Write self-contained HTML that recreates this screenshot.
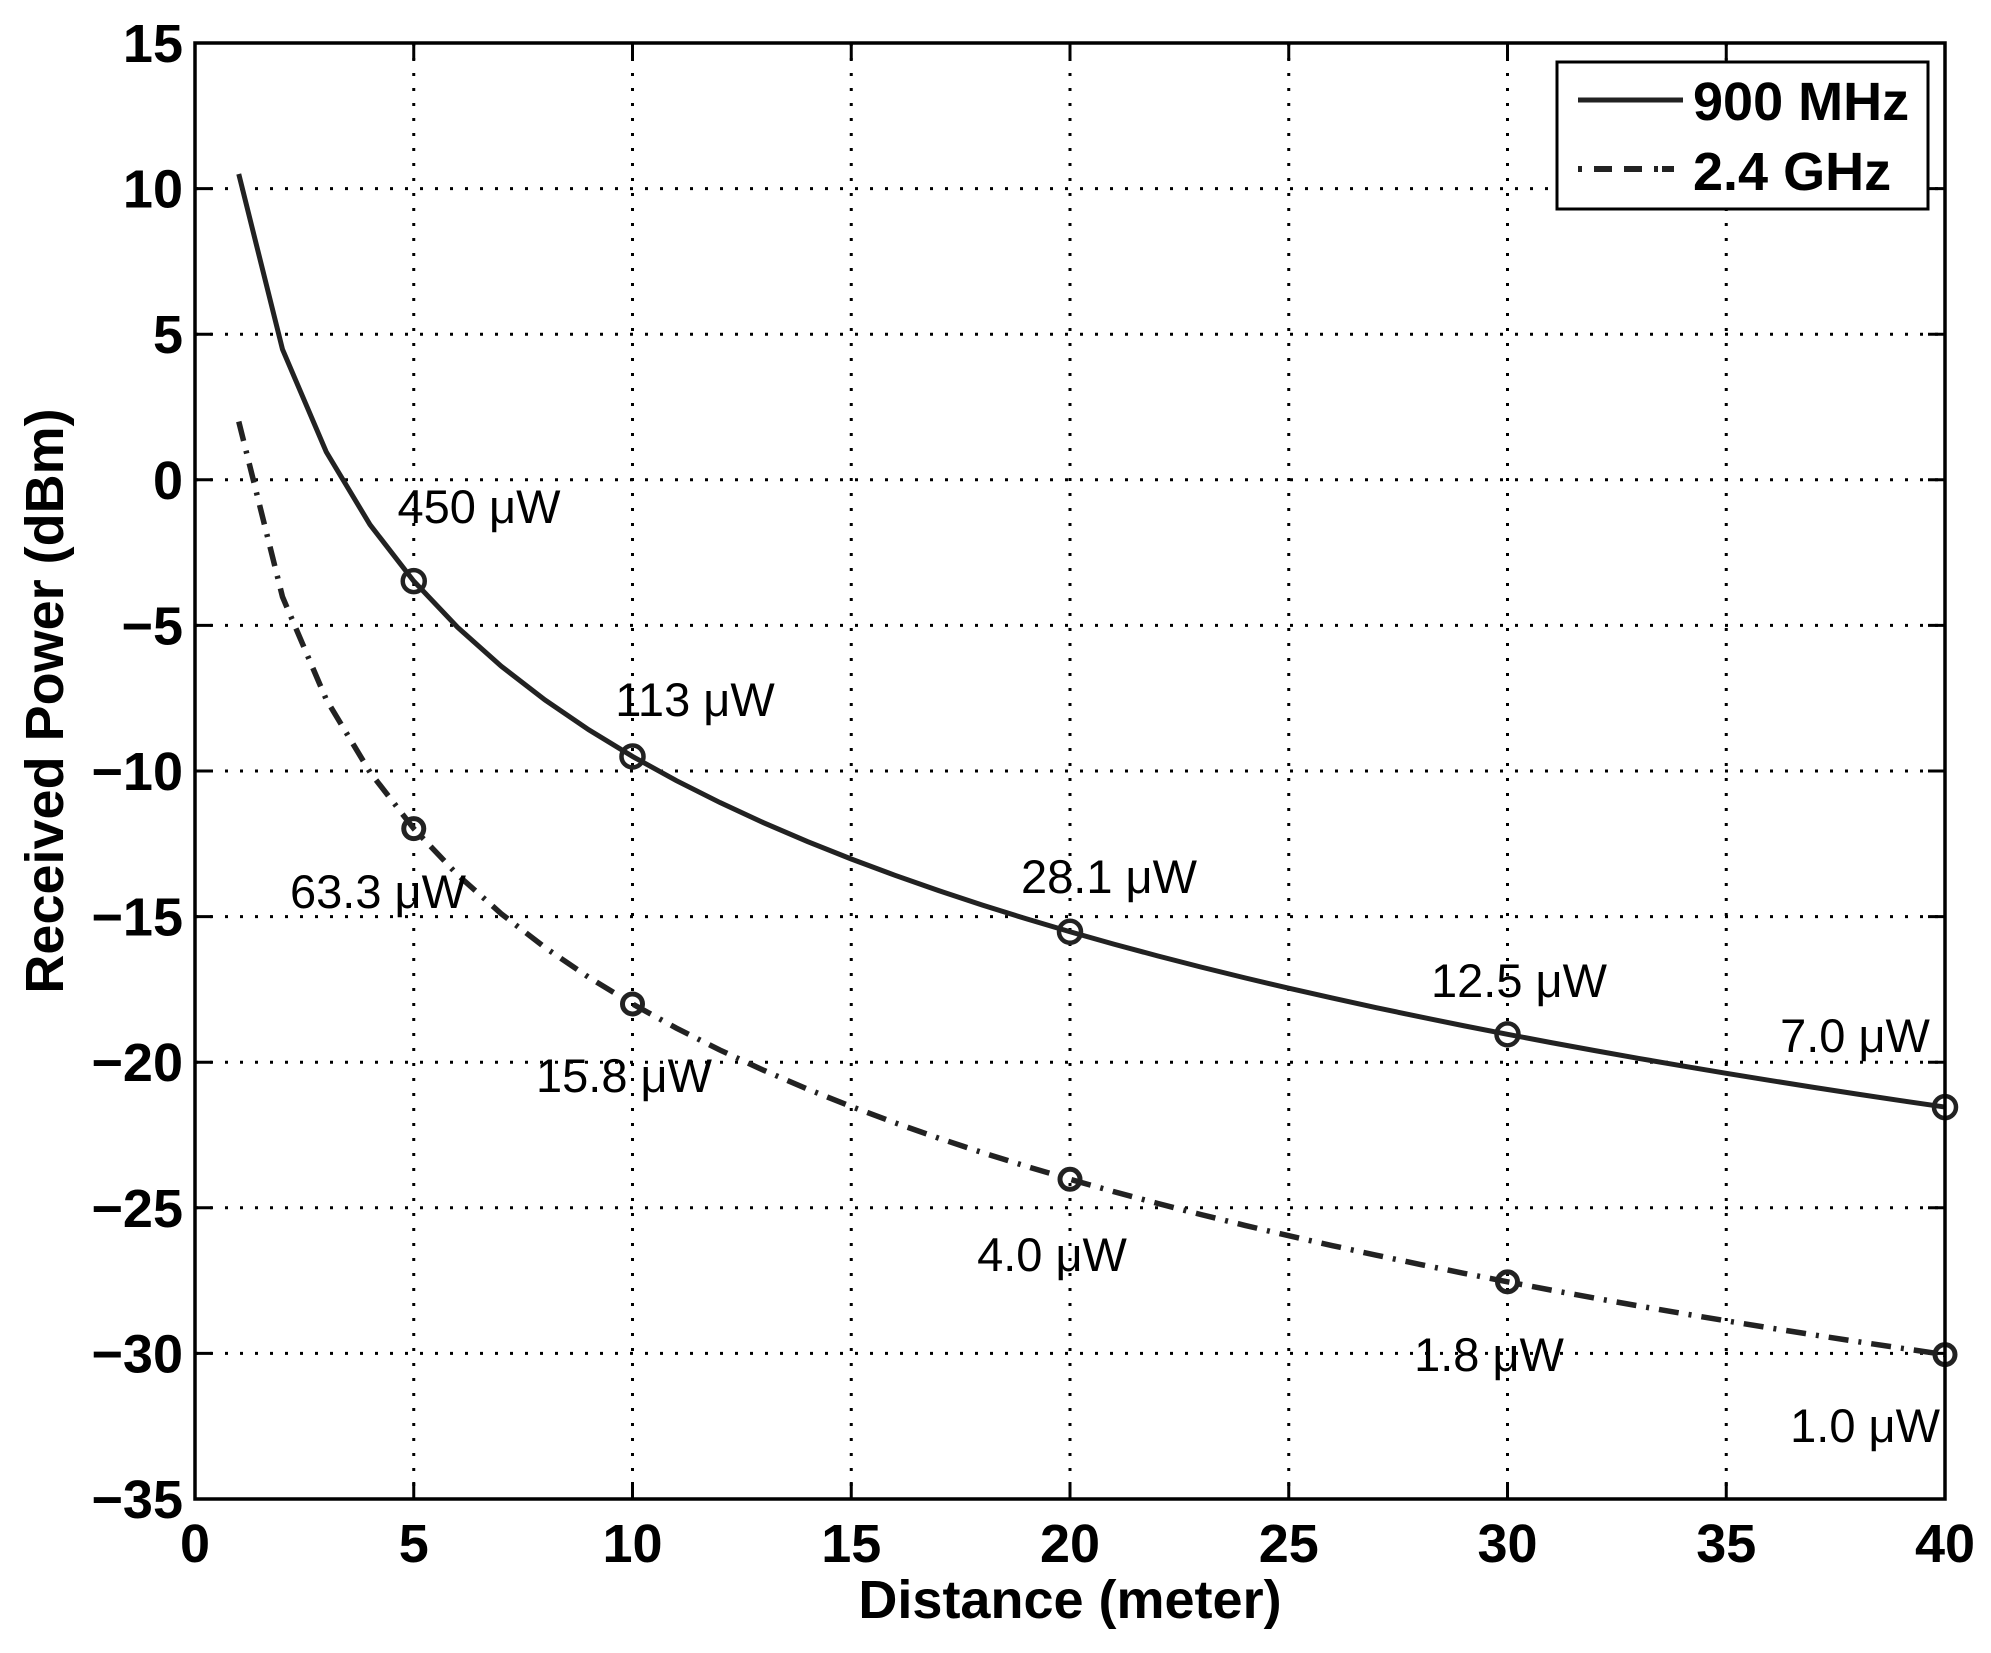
<!DOCTYPE html>
<html><head><meta charset="utf-8"><style>
html,body{margin:0;padding:0;background:#fff;}
svg{display:block;}
text{font-family:"Liberation Sans",Arial,sans-serif;fill:#000;}
.t{font-size:54px;font-weight:bold;}
.a{font-size:47px;fill:#222;}
</style></head><body>
<svg id="s" width="1991" height="1653" viewBox="0 0 1991 1653" xmlns="http://www.w3.org/2000/svg">
<rect width="1991" height="1653" fill="#fff"/>
<g id="grid" stroke="#000" stroke-width="3" stroke-dasharray="3 12"></g>
<g id="ticks" stroke="#000" stroke-width="3"></g>
<g id="labels"></g>
<polyline id="l1" fill="none" stroke="#222" stroke-width="5"/>
<polyline id="l2" fill="none" stroke="#222" stroke-width="5.5" stroke-dasharray="20 10 3 10"/>
<g id="mk" fill="none" stroke="#222" stroke-width="4.5"></g>
<g id="mk2" fill="none" stroke="#222" stroke-width="5"></g>
<rect x="195" y="43" width="1750" height="1456" fill="none" stroke="#000" stroke-width="3.5"/>
<g class="a">
<text x="479" y="523" text-anchor="middle">450 μW</text>
<text x="695" y="716" text-anchor="middle">113 μW</text>
<text x="1109" y="893" text-anchor="middle">28.1 μW</text>
<text x="1519" y="997" text-anchor="middle">12.5 μW</text>
<text x="1855" y="1052" text-anchor="middle">7.0 μW</text>
<text x="378" y="908" text-anchor="middle">63.3 μW</text>
<text x="624" y="1092" text-anchor="middle">15.8 μW</text>
<text x="1052" y="1271" text-anchor="middle">4.0 μW</text>
<text x="1489" y="1371" text-anchor="middle">1.8 μW</text>
<text x="1940" y="1442" text-anchor="end">1.0 μW</text>
</g>
<text class="t" x="1070" y="1618" text-anchor="middle" font-size="55">Distance (meter)</text>
<text class="t" transform="translate(63,701) rotate(-90)" text-anchor="middle" font-size="53">Received Power (dBm)</text>
<rect x="1557" y="62" width="371" height="147" fill="#fff" stroke="#000" stroke-width="3"/>
<line x1="1578" y1="100" x2="1683" y2="100" stroke="#222" stroke-width="5"/>
<line x1="1578" y1="169" x2="1683" y2="169" stroke="#222" stroke-width="6" stroke-dasharray="4 12 18 12 18 12 4"/>
<text class="t" x="1693" y="120" font-size="55">900 MHz</text>
<text class="t" x="1693" y="190" font-size="55">2.4 GHz</text>
</svg>
<script>
const NS="http://www.w3.org/2000/svg";
const X=d=>195+d*43.75, Y=v=>43+(15-v)*29.12;
function el(p,t,a,txt){const e=document.createElementNS(NS,t);for(const k in a)e.setAttribute(k,a[k]);if(txt!==undefined)e.textContent=txt;document.getElementById(p).appendChild(e);return e;}
for(let d=5;d<40;d+=5){el("grid","line",{x1:X(d),y1:43,x2:X(d),y2:1499});}
for(let v=10;v>-35;v-=5){el("grid","line",{x1:195,y1:Y(v),x2:1945,y2:Y(v)});}
for(let d=0;d<=40;d+=5){el("ticks","line",{x1:X(d),y1:1499,x2:X(d),y2:1482});el("ticks","line",{x1:X(d),y1:43,x2:X(d),y2:60});
 el("labels","text",{x:X(d),y:1562,"text-anchor":"middle",class:"t"},String(d));}
for(let v=15;v>=-35;v-=5){el("ticks","line",{x1:195,y1:Y(v),x2:212,y2:Y(v)});el("ticks","line",{x1:1945,y1:Y(v),x2:1928,y2:Y(v)});
 el("labels","text",{x:183,y:Y(v)+19,"text-anchor":"end",class:"t"},v<0?"\u2212"+(-v):String(v));}
let p1=[],p2=[];
for(let d=1;d<=40;d++){p1.push(X(d)+","+Y(10.5-20*Math.log10(d)));p2.push(X(d)+","+Y(2-20*Math.log10(d)));}
document.getElementById("l1").setAttribute("points",p1.join(" "));
document.getElementById("l2").setAttribute("points",p2.join(" "));
[5,10,20,30,40].forEach(d=>{el("mk","circle",{cx:X(d),cy:Y(10.5-20*Math.log10(d)),r:11});el("mk2","circle",{cx:X(d),cy:Y(2-20*Math.log10(d)),r:10});});
</script>
</body></html>
